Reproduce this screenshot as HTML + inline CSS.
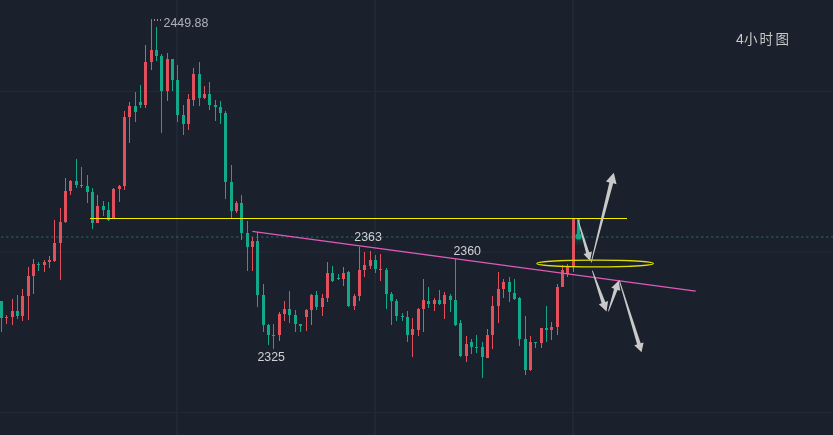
<!DOCTYPE html>
<html><head><meta charset="utf-8"><title>chart</title>
<style>html,body{margin:0;padding:0;background:#1b202d;}body{width:833px;height:435px;overflow:hidden;}svg{display:block;}</style>
</head><body>
<svg width="833" height="435" viewBox="0 0 833 435">
<rect width="833" height="435" fill="#1b202d"/>
<rect x="0" y="91" width="833" height="1" fill="#222a37"/><rect x="0" y="251" width="833" height="2" fill="#1f2533"/><rect x="0" y="412" width="833" height="1" fill="#222a37"/><rect x="176" y="0" width="2" height="435" fill="#202836"/><rect x="374" y="0" width="2" height="435" fill="#202836"/><rect x="572" y="0" width="2" height="435" fill="#202836"/>
<line x1="0" y1="237" x2="833" y2="237" stroke="#1f6b63" stroke-width="1" stroke-dasharray="2.5 2.5" stroke-dashoffset="-1"/>
<g shape-rendering="crispEdges"><rect x="1" y="301" width="1" height="31" fill="#14a88a"/><rect x="0" y="301" width="3" height="17" fill="#14a88a"/><rect x="6" y="315" width="1" height="9" fill="#e2505c"/><rect x="5" y="317" width="3" height="1" fill="#e2505c"/><rect x="12" y="299" width="1" height="26" fill="#e2505c"/><rect x="11" y="311" width="3" height="6" fill="#e2505c"/><rect x="17" y="295" width="1" height="24" fill="#14a88a"/><rect x="16" y="311" width="3" height="5" fill="#14a88a"/><rect x="22" y="289" width="1" height="32" fill="#e2505c"/><rect x="21" y="296" width="3" height="20" fill="#e2505c"/><rect x="28" y="267" width="1" height="53" fill="#e2505c"/><rect x="27" y="276" width="3" height="20" fill="#e2505c"/><rect x="33" y="259" width="1" height="35" fill="#e2505c"/><rect x="32" y="264" width="3" height="12" fill="#e2505c"/><rect x="38" y="262" width="1" height="9" fill="#14a88a"/><rect x="37" y="264" width="3" height="1" fill="#14a88a"/><rect x="44" y="260" width="1" height="12" fill="#e2505c"/><rect x="43" y="262" width="3" height="3" fill="#e2505c"/><rect x="49" y="256" width="1" height="12" fill="#e2505c"/><rect x="48" y="260" width="3" height="2" fill="#e2505c"/><rect x="54" y="220" width="1" height="42" fill="#e2505c"/><rect x="53" y="243" width="3" height="18" fill="#e2505c"/><rect x="60" y="208" width="1" height="72" fill="#e2505c"/><rect x="59" y="222" width="3" height="21" fill="#e2505c"/><rect x="65" y="178" width="1" height="45" fill="#e2505c"/><rect x="64" y="191" width="3" height="31" fill="#e2505c"/><rect x="70" y="180" width="1" height="15" fill="#e2505c"/><rect x="69" y="181" width="3" height="10" fill="#e2505c"/><rect x="76" y="159" width="1" height="29" fill="#14a88a"/><rect x="75" y="181" width="3" height="4" fill="#14a88a"/><rect x="81" y="167" width="1" height="21" fill="#14a88a"/><rect x="80" y="185" width="3" height="1" fill="#14a88a"/><rect x="87" y="175" width="1" height="28" fill="#14a88a"/><rect x="86" y="186" width="3" height="6" fill="#14a88a"/><rect x="92" y="188" width="1" height="41" fill="#14a88a"/><rect x="91" y="192" width="3" height="31" fill="#14a88a"/><rect x="97" y="195" width="1" height="28" fill="#e2505c"/><rect x="96" y="206" width="3" height="17" fill="#e2505c"/><rect x="103" y="201" width="1" height="15" fill="#14a88a"/><rect x="102" y="206" width="3" height="4" fill="#14a88a"/><rect x="108" y="202" width="1" height="19" fill="#14a88a"/><rect x="107" y="210" width="3" height="10" fill="#14a88a"/><rect x="113" y="188" width="1" height="30" fill="#e2505c"/><rect x="112" y="189" width="3" height="29" fill="#e2505c"/><rect x="119" y="185" width="1" height="17" fill="#e2505c"/><rect x="118" y="186" width="3" height="3" fill="#e2505c"/><rect x="124" y="111" width="1" height="79" fill="#e2505c"/><rect x="123" y="117" width="3" height="69" fill="#e2505c"/><rect x="129" y="102" width="1" height="41" fill="#e2505c"/><rect x="128" y="106" width="3" height="11" fill="#e2505c"/><rect x="135" y="92" width="1" height="30" fill="#14a88a"/><rect x="134" y="106" width="3" height="6" fill="#14a88a"/><rect x="140" y="85" width="1" height="23" fill="#14a88a"/><rect x="139" y="102" width="3" height="3" fill="#14a88a"/><rect x="145" y="45" width="1" height="63" fill="#e2505c"/><rect x="144" y="62" width="3" height="43" fill="#e2505c"/><rect x="151" y="19" width="1" height="51" fill="#e2505c"/><rect x="150" y="50" width="3" height="12" fill="#e2505c"/><rect x="156" y="27" width="1" height="34" fill="#14a88a"/><rect x="155" y="50" width="3" height="6" fill="#14a88a"/><rect x="161" y="54" width="1" height="79" fill="#14a88a"/><rect x="160" y="56" width="3" height="35" fill="#14a88a"/><rect x="167" y="53" width="1" height="48" fill="#e2505c"/><rect x="166" y="59" width="3" height="32" fill="#e2505c"/><rect x="172" y="59" width="1" height="32" fill="#14a88a"/><rect x="171" y="59" width="3" height="21" fill="#14a88a"/><rect x="177" y="65" width="1" height="57" fill="#14a88a"/><rect x="176" y="80" width="3" height="35" fill="#14a88a"/><rect x="183" y="105" width="1" height="30" fill="#14a88a"/><rect x="182" y="115" width="3" height="9" fill="#14a88a"/><rect x="188" y="94" width="1" height="36" fill="#e2505c"/><rect x="187" y="99" width="3" height="25" fill="#e2505c"/><rect x="193" y="68" width="1" height="38" fill="#e2505c"/><rect x="192" y="74" width="3" height="26" fill="#e2505c"/><rect x="199" y="62" width="1" height="44" fill="#14a88a"/><rect x="198" y="74" width="3" height="24" fill="#14a88a"/><rect x="204" y="86" width="1" height="13" fill="#e2505c"/><rect x="203" y="94" width="3" height="4" fill="#e2505c"/><rect x="209" y="82" width="1" height="28" fill="#14a88a"/><rect x="208" y="94" width="3" height="11" fill="#14a88a"/><rect x="215" y="100" width="1" height="21" fill="#14a88a"/><rect x="214" y="105" width="3" height="2" fill="#14a88a"/><rect x="220" y="101" width="1" height="23" fill="#14a88a"/><rect x="219" y="107" width="3" height="6" fill="#14a88a"/><rect x="225" y="111" width="1" height="88" fill="#14a88a"/><rect x="224" y="113" width="3" height="69" fill="#14a88a"/><rect x="231" y="165" width="1" height="53" fill="#14a88a"/><rect x="230" y="182" width="3" height="29" fill="#14a88a"/><rect x="236" y="201" width="1" height="12" fill="#e2505c"/><rect x="235" y="203" width="3" height="8" fill="#e2505c"/><rect x="241" y="195" width="1" height="45" fill="#14a88a"/><rect x="240" y="203" width="3" height="30" fill="#14a88a"/><rect x="247" y="221" width="1" height="50" fill="#14a88a"/><rect x="246" y="233" width="3" height="14" fill="#14a88a"/><rect x="252" y="237" width="1" height="34" fill="#e2505c"/><rect x="251" y="241" width="3" height="6" fill="#e2505c"/><rect x="257" y="232" width="1" height="75" fill="#14a88a"/><rect x="256" y="241" width="3" height="54" fill="#14a88a"/><rect x="263" y="284" width="1" height="48" fill="#14a88a"/><rect x="262" y="295" width="3" height="30" fill="#14a88a"/><rect x="268" y="324" width="1" height="21" fill="#14a88a"/><rect x="267" y="325" width="3" height="10" fill="#14a88a"/><rect x="273" y="324" width="1" height="25" fill="#14a88a"/><rect x="272" y="335" width="3" height="1" fill="#14a88a"/><rect x="279" y="312" width="1" height="29" fill="#e2505c"/><rect x="278" y="314" width="3" height="21" fill="#e2505c"/><rect x="284" y="301" width="1" height="20" fill="#e2505c"/><rect x="283" y="309" width="3" height="5" fill="#e2505c"/><rect x="289" y="291" width="1" height="32" fill="#14a88a"/><rect x="288" y="309" width="3" height="6" fill="#14a88a"/><rect x="295" y="310" width="1" height="22" fill="#14a88a"/><rect x="294" y="315" width="3" height="9" fill="#14a88a"/><rect x="300" y="324" width="1" height="8" fill="#14a88a"/><rect x="299" y="324" width="3" height="2" fill="#14a88a"/><rect x="306" y="309" width="1" height="22" fill="#e2505c"/><rect x="305" y="310" width="3" height="7" fill="#e2505c"/><rect x="311" y="294" width="1" height="31" fill="#e2505c"/><rect x="310" y="295" width="3" height="15" fill="#e2505c"/><rect x="316" y="291" width="1" height="19" fill="#14a88a"/><rect x="315" y="295" width="3" height="12" fill="#14a88a"/><rect x="322" y="294" width="1" height="22" fill="#e2505c"/><rect x="321" y="298" width="3" height="9" fill="#e2505c"/><rect x="327" y="262" width="1" height="40" fill="#e2505c"/><rect x="326" y="273" width="3" height="25" fill="#e2505c"/><rect x="332" y="266" width="1" height="16" fill="#14a88a"/><rect x="331" y="273" width="3" height="8" fill="#14a88a"/><rect x="338" y="274" width="1" height="6" fill="#14a88a"/><rect x="337" y="278" width="3" height="1" fill="#14a88a"/><rect x="343" y="267" width="1" height="19" fill="#e2505c"/><rect x="342" y="273" width="3" height="6" fill="#e2505c"/><rect x="348" y="271" width="1" height="36" fill="#14a88a"/><rect x="347" y="272" width="3" height="34" fill="#14a88a"/><rect x="354" y="294" width="1" height="16" fill="#e2505c"/><rect x="353" y="296" width="3" height="10" fill="#e2505c"/><rect x="359" y="247" width="1" height="54" fill="#e2505c"/><rect x="358" y="270" width="3" height="26" fill="#e2505c"/><rect x="364" y="252" width="1" height="25" fill="#e2505c"/><rect x="363" y="265" width="3" height="5" fill="#e2505c"/><rect x="370" y="251" width="1" height="18" fill="#e2505c"/><rect x="369" y="260" width="3" height="6" fill="#e2505c"/><rect x="375" y="255" width="1" height="18" fill="#14a88a"/><rect x="374" y="260" width="3" height="9" fill="#14a88a"/><rect x="380" y="254" width="1" height="27" fill="#e2505c"/><rect x="379" y="269" width="3" height="1" fill="#e2505c"/><rect x="386" y="268" width="1" height="41" fill="#14a88a"/><rect x="385" y="270" width="3" height="24" fill="#14a88a"/><rect x="391" y="292" width="1" height="33" fill="#14a88a"/><rect x="390" y="294" width="3" height="7" fill="#14a88a"/><rect x="396" y="299" width="1" height="22" fill="#14a88a"/><rect x="395" y="301" width="3" height="15" fill="#14a88a"/><rect x="402" y="313" width="1" height="8" fill="#14a88a"/><rect x="401" y="316" width="3" height="1" fill="#14a88a"/><rect x="407" y="311" width="1" height="31" fill="#14a88a"/><rect x="406" y="317" width="3" height="18" fill="#14a88a"/><rect x="412" y="318" width="1" height="39" fill="#e2505c"/><rect x="411" y="329" width="3" height="6" fill="#e2505c"/><rect x="418" y="308" width="1" height="28" fill="#e2505c"/><rect x="417" y="309" width="3" height="21" fill="#e2505c"/><rect x="423" y="279" width="1" height="53" fill="#e2505c"/><rect x="422" y="300" width="3" height="9" fill="#e2505c"/><rect x="428" y="287" width="1" height="21" fill="#14a88a"/><rect x="427" y="301" width="3" height="3" fill="#14a88a"/><rect x="434" y="298" width="1" height="13" fill="#e2505c"/><rect x="433" y="300" width="3" height="4" fill="#e2505c"/><rect x="439" y="290" width="1" height="15" fill="#14a88a"/><rect x="438" y="300" width="3" height="4" fill="#14a88a"/><rect x="444" y="292" width="1" height="27" fill="#e2505c"/><rect x="443" y="295" width="3" height="9" fill="#e2505c"/><rect x="450" y="294" width="1" height="18" fill="#14a88a"/><rect x="449" y="296" width="3" height="4" fill="#14a88a"/><rect x="455" y="259" width="1" height="67" fill="#14a88a"/><rect x="454" y="300" width="3" height="25" fill="#14a88a"/><rect x="460" y="320" width="1" height="37" fill="#14a88a"/><rect x="459" y="323" width="3" height="33" fill="#14a88a"/><rect x="466" y="336" width="1" height="26" fill="#e2505c"/><rect x="465" y="344" width="3" height="12" fill="#e2505c"/><rect x="471" y="339" width="1" height="15" fill="#14a88a"/><rect x="470" y="342" width="3" height="5" fill="#14a88a"/><rect x="476" y="335" width="1" height="18" fill="#14a88a"/><rect x="475" y="347" width="3" height="1" fill="#14a88a"/><rect x="482" y="342" width="1" height="36" fill="#14a88a"/><rect x="481" y="347" width="3" height="10" fill="#14a88a"/><rect x="487" y="329" width="1" height="29" fill="#e2505c"/><rect x="486" y="335" width="3" height="23" fill="#e2505c"/><rect x="492" y="296" width="1" height="53" fill="#e2505c"/><rect x="491" y="306" width="3" height="29" fill="#e2505c"/><rect x="498" y="272" width="1" height="51" fill="#e2505c"/><rect x="497" y="289" width="3" height="17" fill="#e2505c"/><rect x="503" y="279" width="1" height="19" fill="#e2505c"/><rect x="502" y="282" width="3" height="7" fill="#e2505c"/><rect x="509" y="277" width="1" height="25" fill="#14a88a"/><rect x="508" y="282" width="3" height="10" fill="#14a88a"/><rect x="514" y="279" width="1" height="21" fill="#14a88a"/><rect x="513" y="293" width="3" height="6" fill="#14a88a"/><rect x="519" y="297" width="1" height="49" fill="#14a88a"/><rect x="518" y="298" width="3" height="41" fill="#14a88a"/><rect x="525" y="316" width="1" height="59" fill="#14a88a"/><rect x="524" y="339" width="3" height="31" fill="#14a88a"/><rect x="530" y="336" width="1" height="35" fill="#e2505c"/><rect x="529" y="342" width="3" height="28" fill="#e2505c"/><rect x="535" y="342" width="1" height="6" fill="#14a88a"/><rect x="534" y="342" width="3" height="1" fill="#14a88a"/><rect x="541" y="328" width="1" height="20" fill="#e2505c"/><rect x="540" y="328" width="3" height="15" fill="#e2505c"/><rect x="546" y="306" width="1" height="36" fill="#14a88a"/><rect x="545" y="328" width="3" height="2" fill="#14a88a"/><rect x="551" y="322" width="1" height="18" fill="#e2505c"/><rect x="550" y="327" width="3" height="3" fill="#e2505c"/><rect x="557" y="284" width="1" height="51" fill="#e2505c"/><rect x="556" y="287" width="3" height="40" fill="#e2505c"/><rect x="562" y="265" width="1" height="22" fill="#e2505c"/><rect x="561" y="270" width="3" height="17" fill="#e2505c"/><rect x="567" y="264" width="1" height="13" fill="#e2505c"/><rect x="566" y="266" width="3" height="8" fill="#e2505c"/><rect x="573" y="218" width="1" height="54" fill="#e2505c"/><rect x="572" y="219" width="3" height="47" fill="#e2505c"/><rect x="578" y="219" width="1" height="17" fill="#14a88a"/><rect x="577" y="219" width="3" height="17" fill="#14a88a"/></g>
<rect x="90" y="218" width="537" height="1" fill="#f5f000"/>
<line x1="252.4" y1="231.4" x2="695.7" y2="291.1" stroke="#e25ab8" stroke-width="1.3"/>
<ellipse cx="595.1" cy="263.5" rx="58.3" ry="3.4" fill="none" stroke="#e0dc00" stroke-width="1.3"/>
<defs><radialGradient id="glow"><stop offset="0" stop-color="#14a88a" stop-opacity="0.35"/><stop offset="0.5" stop-color="#14a88a" stop-opacity="0.12"/><stop offset="1" stop-color="#14a88a" stop-opacity="0"/></radialGradient></defs>
<circle cx="578.5" cy="236.5" r="10" fill="url(#glow)"/>
<circle cx="578.5" cy="236.5" r="3.1" fill="#14a88a"/>
<polygon fill="#c9c9c9" points="577.62,220.31 586.12,253.21 583.44,254.01 590.10,261.00 591.87,251.50 589.19,252.30 578.38,220.09"/>
<polygon fill="#c9c9c9" points="591.59,262.60 613.20,183.37 616.59,184.23 613.80,172.80 605.93,181.54 609.32,182.40 590.81,262.40"/>
<polygon fill="#c9c9c9" points="591.92,270.73 601.63,303.35 598.85,304.32 606.50,311.40 608.10,301.10 605.32,302.07 592.68,270.47"/>
<polygon fill="#c9c9c9" points="608.78,311.53 617.52,289.88 620.27,290.81 618.80,280.40 611.35,287.82 614.10,288.74 608.02,311.27"/>
<polygon fill="#c9c9c9" points="618.92,280.52 637.09,344.45 634.22,345.34 641.50,352.30 643.59,342.45 640.72,343.33 619.68,280.28"/>
<rect x="154" y="19" width="1" height="2" fill="#8e919a"/><rect x="157" y="19" width="1" height="2" fill="#8e919a"/><rect x="160" y="19" width="1" height="2" fill="#8e919a"/>
<text x="163.5" y="27" font-family="Liberation Sans, Arial, sans-serif" font-size="12.4" fill="#aeb1bb">2449.88</text>
<text x="354.3" y="241" font-family="Liberation Sans, Arial, sans-serif" font-size="12.4" fill="#d0d1d4">2363</text>
<text x="453.4" y="255" font-family="Liberation Sans, Arial, sans-serif" font-size="12.4" fill="#d0d1d4">2360</text>
<text x="257.4" y="361.3" font-family="Liberation Sans, Arial, sans-serif" font-size="12.4" fill="#d0d1d4">2325</text>
<text x="736" y="44" font-size="14" font-family="Liberation Sans, Noto Sans CJK SC, sans-serif" fill="#c8c8c8">4</text>
<text x="744" y="44" font-size="13.5" font-family="Liberation Sans, Noto Sans CJK SC, sans-serif" fill="#c8c8c8">小</text>
<text x="759.5" y="44" font-size="13.5" font-family="Liberation Sans, Noto Sans CJK SC, sans-serif" fill="#c8c8c8">时</text>
<text x="775.5" y="44" font-size="13.5" font-family="Liberation Sans, Noto Sans CJK SC, sans-serif" fill="#c8c8c8">图</text>
</svg>
</body></html>
